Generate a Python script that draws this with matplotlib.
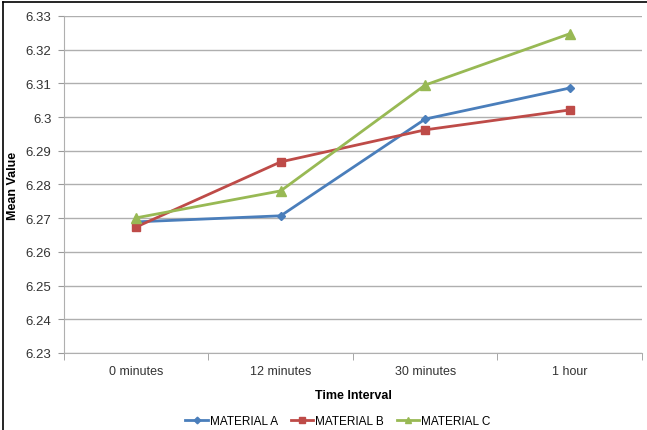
import matplotlib
matplotlib.use("Agg")
import matplotlib.pyplot as plt
from matplotlib.lines import Line2D

categories = ["0 minutes", "12 minutes", "30 minutes", "1 hour"]
material_a = [6.2689, 6.2707, 6.2994, 6.3086]
material_b = [6.2674, 6.2867, 6.2962, 6.3021]
material_c = [6.2701, 6.2781, 6.3095, 6.3247]
yticks = [6.23, 6.24, 6.25, 6.26, 6.27, 6.28, 6.29, 6.3, 6.31, 6.32, 6.33]

plt.rcParams['font.family'] = ['Liberation Sans', 'DejaVu Sans']

fig = plt.figure(figsize=(6.47, 4.31), dpi=100)
ax = fig.add_axes([0.099, 0.1787, 0.893, 0.782])

x = range(len(categories))
ax.plot(x, material_a, color='#4A7EBB', lw=2, marker='D', ms=4.5, label='MATERIAL A')
ax.plot(x, material_b, color='#BE4B48', lw=2, marker='s', ms=6, label='MATERIAL B')
ax.plot(x, material_c, color='#98B954', lw=2, marker='^', ms=6.5, label='MATERIAL C')

ax.set_xlim(-0.5, 3.5)
ax.set_ylim(6.23, 6.33)
ax.set_yticks(yticks)
ax.set_yticklabels([f"{v:g}" for v in yticks], fontsize=9.5, color='#333333')
ax.set_xticks(list(x))
ax.set_xticklabels(categories, fontsize=9, color='#333333')
ax.set_xticks([-0.5, 0.5, 1.5, 2.5, 3.5], minor=True)
ax.tick_params(axis='x', which='major', length=0, pad=9)
ax.tick_params(axis='x', which='minor', length=5, color='#999999')
ax.tick_params(axis='y', length=4, color='#999999', pad=5)

ax.grid(axis='y', color='#AFAFAF', lw=1)
ax.set_axisbelow(True)
for s in ['top', 'right']:
    ax.spines[s].set_visible(False)
for s in ['left', 'bottom']:
    ax.spines[s].set_color('#AFAFAF')

ax.set_xlabel('Time Interval', fontsize=9, fontweight='bold', labelpad=8)
ax.set_ylabel('Mean Value', fontsize=9, fontweight='bold', labelpad=5)

ax.legend(loc='center', bbox_to_anchor=(0.522, 0.02), bbox_transform=fig.transFigure,
          ncol=3, frameon=False, fontsize=8.5, handlelength=1.9, columnspacing=1.1,
          handletextpad=0.15, markerscale=0.75)

# outer frame
fig.add_artist(Line2D([0.004, 0.004], [0, 0.994], transform=fig.transFigure, color='black', lw=1.2))
fig.add_artist(Line2D([0.004, 1], [0.994, 0.994], transform=fig.transFigure, color='black', lw=1.2))

fig.savefig('out.png', dpi=100)
